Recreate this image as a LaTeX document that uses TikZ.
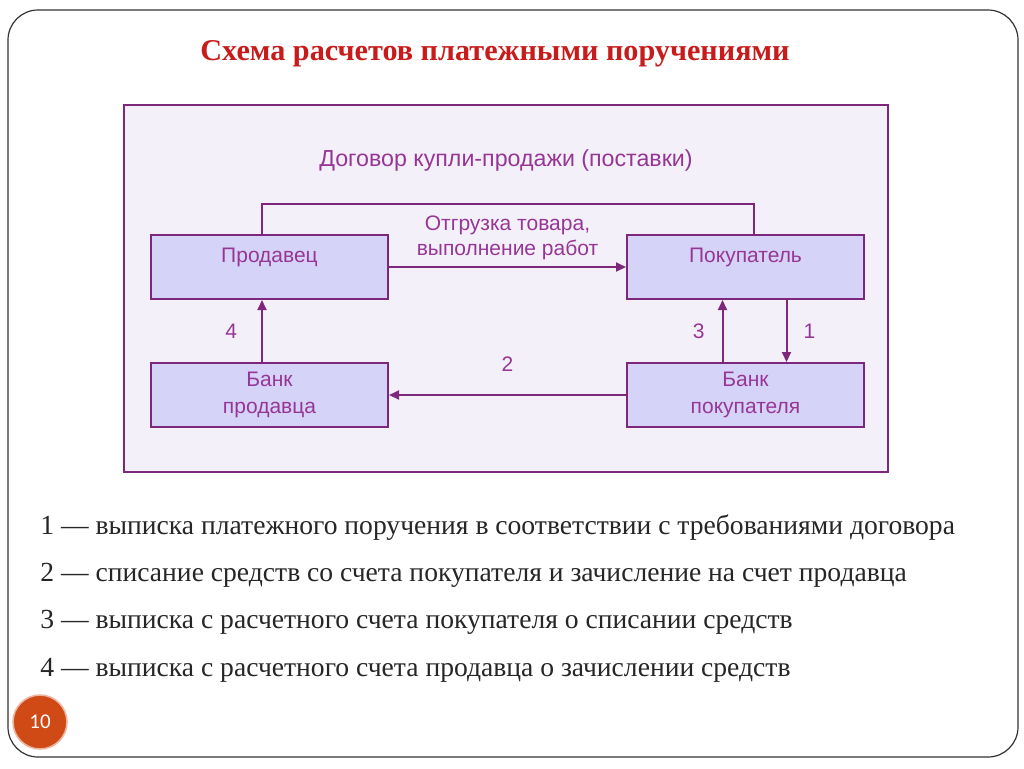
\documentclass[tikz,border=0pt]{standalone}
\usepackage{fontspec}
\setmainfont{Liberation Serif}
\setsansfont{Liberation Sans}
\newfontfamily\pagenofont{Carlito}
\usetikzlibrary{arrows.meta,positioning}

\definecolor{lilac}{RGB}{150,55,150}
\definecolor{edge}{RGB}{125,40,125}
\definecolor{panelfill}{RGB}{244,240,250}
\definecolor{boxfill}{RGB}{214,211,248}
\definecolor{titlered}{RGB}{200,28,28}
\definecolor{badge}{RGB}{208,74,22}

\begin{document}
\begin{tikzpicture}[x=0.5pt,y=-0.5pt,
    box/.style={draw=edge,fill=boxfill,line width=1pt,minimum width=118.5pt,minimum height=32pt,
        text=lilac,font=\sffamily\fontsize{10.5}{13.5}\selectfont,align=center,inner sep=0pt},
    flow/.style={draw=edge,line width=1pt},
    arr/.style={flow,-{Triangle[length=5pt,width=4.5pt]}},
    lbl/.style={text=lilac,font=\sffamily\fontsize{10.5}{12.5}\selectfont,align=center,inner sep=1pt}]
    \useasboundingbox (0,0) rectangle (1024,768);
    \fill[white] (0,0) rectangle (1024,768);
    \draw[black!80,line width=0.6pt,rounded corners=15pt] (8,10) rectangle (1018,757);

    \node[text=titlered,font=\bfseries\fontsize{15.1}{18}\selectfont] (title) at (495,54) {Схема расчетов платежными поручениями};

    \draw[edge,fill=panelfill,line width=1pt] (124,105) rectangle (888,472);
    \node[lbl,font=\sffamily\fontsize{11.6}{13}\selectfont] (contract) at (506,160) {Договор купли-продажи (поставки)};

    \node[box] (seller) at (269.5,267) {Продавец\\[-6pt]\strut};
    \node[box,right=118.5pt of seller] (buyer) {Покупатель\\[-6pt]\strut};
    \node[box,below=31pt of seller] (sbank) {Банк\\продавца};
    \node[box,below=31pt of buyer] (bbank) {Банк\\покупателя};

    \draw[flow] ([xshift=-3.75pt]seller.north) -- ++(0,-30) -| ([xshift=4pt]buyer.north);
    \draw[arr] (seller.east) -- node[lbl,above=2pt] (goods) {Отгрузка товара,\\выполнение работ} (buyer.west);
    \draw[arr] (bbank.west) -- node[lbl,above=10.5pt] (n2) {2} (sbank.east);
    \draw[arr] ([xshift=-3.75pt]sbank.north) -- node[lbl,left=11pt] (n4) {4} ([xshift=-3.75pt]seller.south);
    \draw[arr] ([xshift=-11.5pt]bbank.north) -- node[lbl,left=7.5pt] (n3) {3} ([xshift=-11.5pt]buyer.south);
    \draw[arr] ([xshift=20.5pt]buyer.south) -- node[lbl,right=7pt] (n1) {1} ([xshift=20.5pt]bbank.north);

    \foreach \n/\y/\t in {1/528/выписка платежного поручения в соответствии с требованиями договора,
            2/575/списание средств со счета покупателя и зачисление на счет продавца,
            3/622/выписка с расчетного счета покупателя о списании средств,
            4/670/выписка с расчетного счета продавца о зачислении средств}
        \node[anchor=west,text=black!85,font=\fontsize{13.8}{16}\selectfont,inner sep=0pt] (item\n) at (40,\y) {\n~— \t};

    \node[circle,fill=badge,draw=badge!40,line width=0.8pt,minimum size=27pt,inner sep=0pt,
        text=white,font=\pagenofont\fontsize{10.5}{11}\selectfont] (pageno) at (40,722) {10};
\end{tikzpicture}
\end{document}
